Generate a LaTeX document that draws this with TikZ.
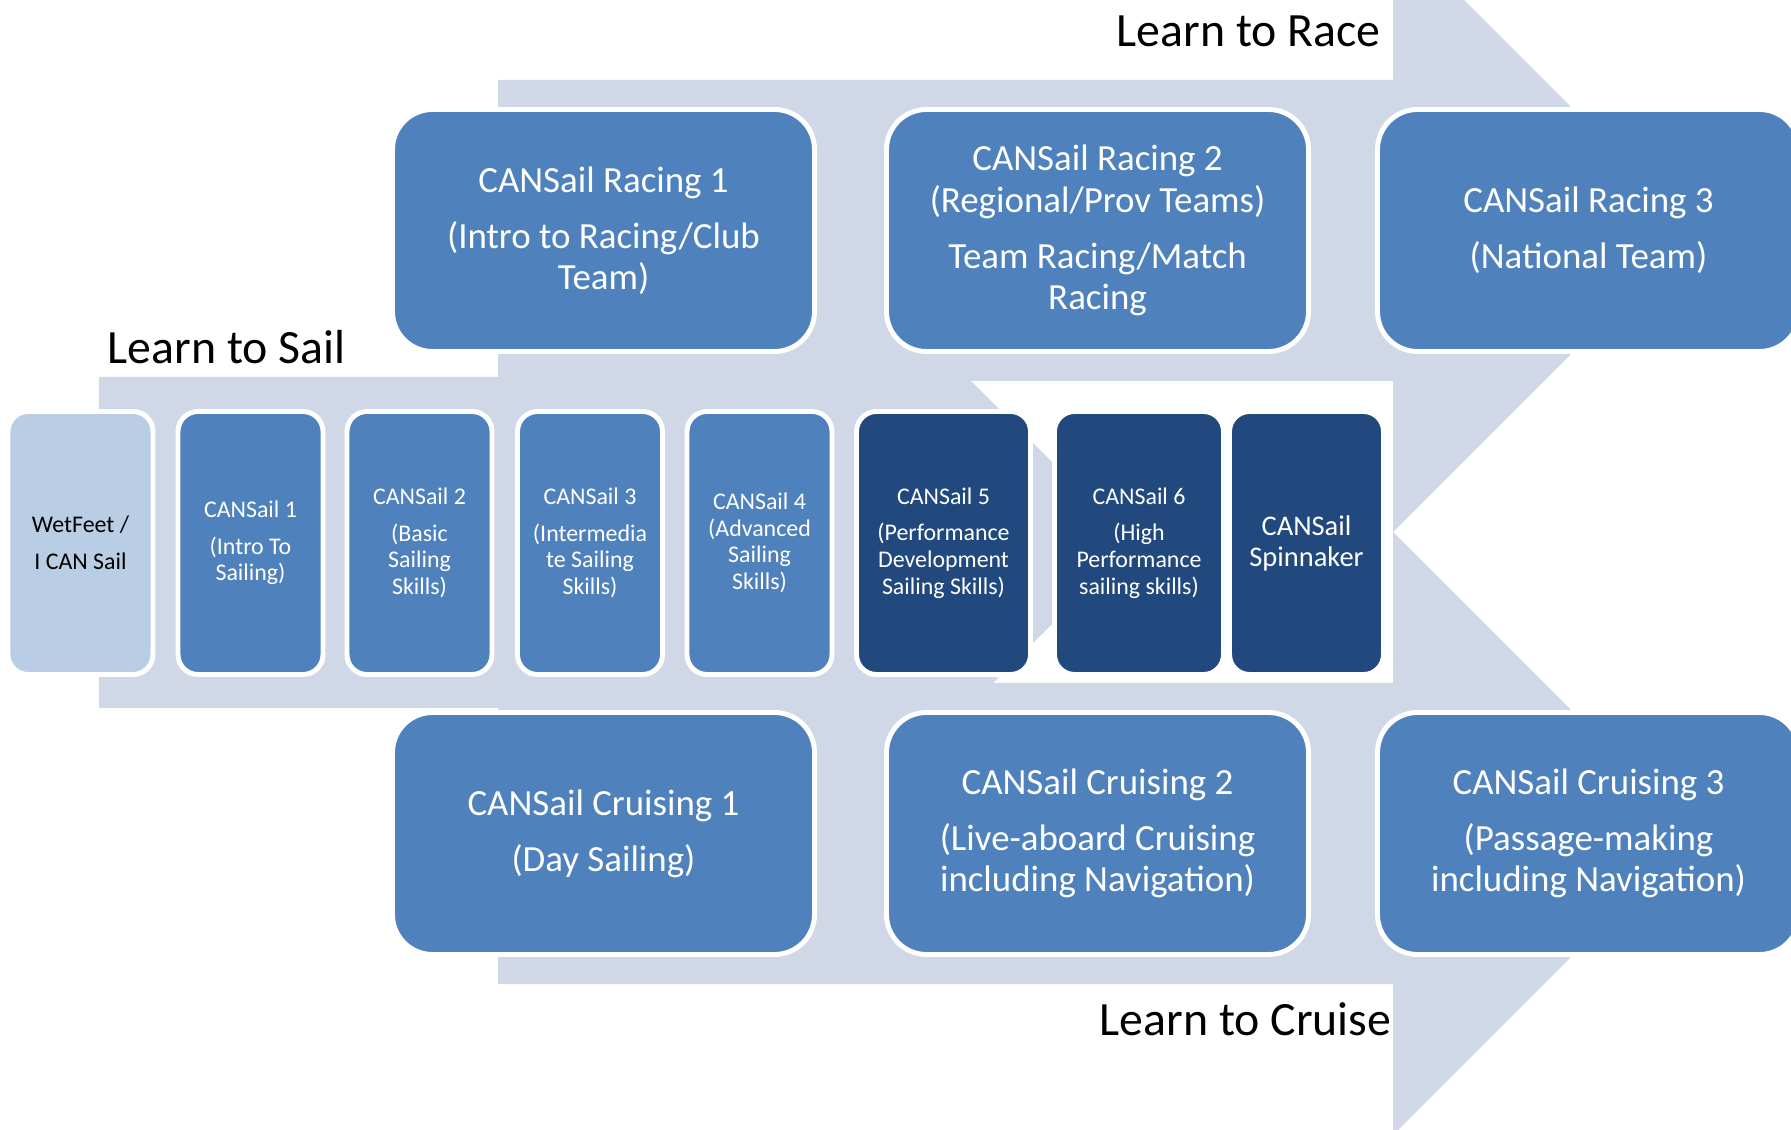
\documentclass[tikz,border=0pt]{standalone}
\usepackage{fontspec}
\setmainfont{Carlito}
\definecolor{bandgray}{RGB}{208,216,232}
\definecolor{boxblue}{RGB}{79,129,189}
\definecolor{boxdark}{RGB}{33,73,125}
\definecolor{boxlight}{RGB}{185,205,229}
\begin{document}
\begin{tikzpicture}
	\tikzstyle{band} = [fill=bandgray]
	\tikzstyle{bigbox} = [draw=white, line width=1.4pt, fill=boxblue, rounded corners=0.4cm, minimum width=4.22cm, minimum height=2.42cm, inner sep=0, text=white, align=center, font=\fontsize{10.5}{11.7}\selectfont]
	\tikzstyle{stagebox} = [draw=white, line width=1.4pt, fill=boxblue, rounded corners=0.2cm, minimum width=1.45cm, minimum height=2.63cm, inner sep=0, text=white, align=center, font=\fontsize{6.8}{7.6}\selectfont]
	\tikzstyle{darkbox} = [stagebox, fill=boxdark]
	\tikzstyle{entrybox} = [stagebox, fill=boxlight, text=black]
	\tikzstyle{pathlabel} = [inner sep=0, anchor=base west, font=\fontsize{13.6}{16}\selectfont]
	\useasboundingbox (0,0) rectangle (17.91,-11.30);
	\clip (0,0) rectangle (17.91,-11.30);
\fill [white] (0,0) rectangle (17.91,-11.30);
\fill [band] (4.98,-0.80) -- (13.93,-0.80) -- (13.93,0.71) -- (16.945,-2.305) -- (13.93,-5.32) -- (13.93,-3.81) -- (4.98,-3.81) -- cycle;
\fill [band] (4.98,-6.83) -- (13.93,-6.83) -- (13.93,-5.32) -- (16.945,-8.335) -- (13.93,-11.35) -- (13.93,-9.84) -- (4.98,-9.84) -- cycle;
\fill [band] (0.99,-3.77) -- (8.02,-3.77) -- (8.02,-2.12) -- (11.33,-5.43) -- (8.02,-8.74) -- (8.02,-7.08) -- (0.99,-7.08) -- cycle;
\node [bigbox] (r1) at (6.035,-2.305) {CANSail Racing 1\\[4.3pt](Intro to Racing/Club\\Team)};
\node [bigbox] (r2) at (10.975,-2.305) {CANSail Racing 2\\(Regional/Prov Teams)\\[4.3pt]Team Racing/Match\\Racing};
\node [bigbox] (r3) at (15.885,-2.305) {CANSail Racing 3\\[4.3pt](National Team)};
\node [bigbox] (c1) at (6.035,-8.335) {CANSail Cruising 1\\[4.3pt](Day Sailing)};
\node [bigbox] (c2) at (10.975,-8.335) {CANSail Cruising 2\\[4.3pt](Live-aboard Cruising\\including Navigation)};
\node [bigbox] (c3) at (15.885,-8.335) {CANSail Cruising 3\\[4.3pt](Passage-making\\including Navigation)};
\node [entrybox] (wet) at (0.805,-5.43) {WetFeet /\\[2.8pt]I CAN Sail};
\node [stagebox] (s1) at (2.505,-5.43) {CANSail 1\\[2.8pt](Intro To\\Sailing)};
\node [stagebox] (s2) at (4.195,-5.43) {CANSail 2\\[2.8pt](Basic\\Sailing\\Skills)};
\node [stagebox] (s3) at (5.90,-5.43) {CANSail 3\\[2.8pt](Intermedia\\te Sailing\\Skills)};
\node [stagebox] (s4) at (7.595,-5.43) {CANSail 4\\(Advanced\\Sailing\\Skills)};
\node [darkbox, minimum width=1.74cm] (s5) at (9.435,-5.43) {CANSail 5\\[2.8pt](Performance\\Development\\Sailing Skills)};
\node [darkbox, minimum width=1.69cm] (s6) at (11.39,-5.43) {CANSail 6\\[2.8pt](High\\Performance\\sailing skills)};
\node [darkbox, minimum width=1.54cm, font=\fontsize{8.1}{8.8}\selectfont] (spin) at (13.065,-5.43) {CANSail\\Spinnaker};

\node [pathlabel] (race) at (11.16,-0.47) {Learn to Race};
\node [pathlabel] (sail) at (1.07,-3.64) {Learn to Sail};
\node [pathlabel] (cruise) at (10.99,-10.35) {Learn to Cruise};
\end{tikzpicture}
\end{document}
